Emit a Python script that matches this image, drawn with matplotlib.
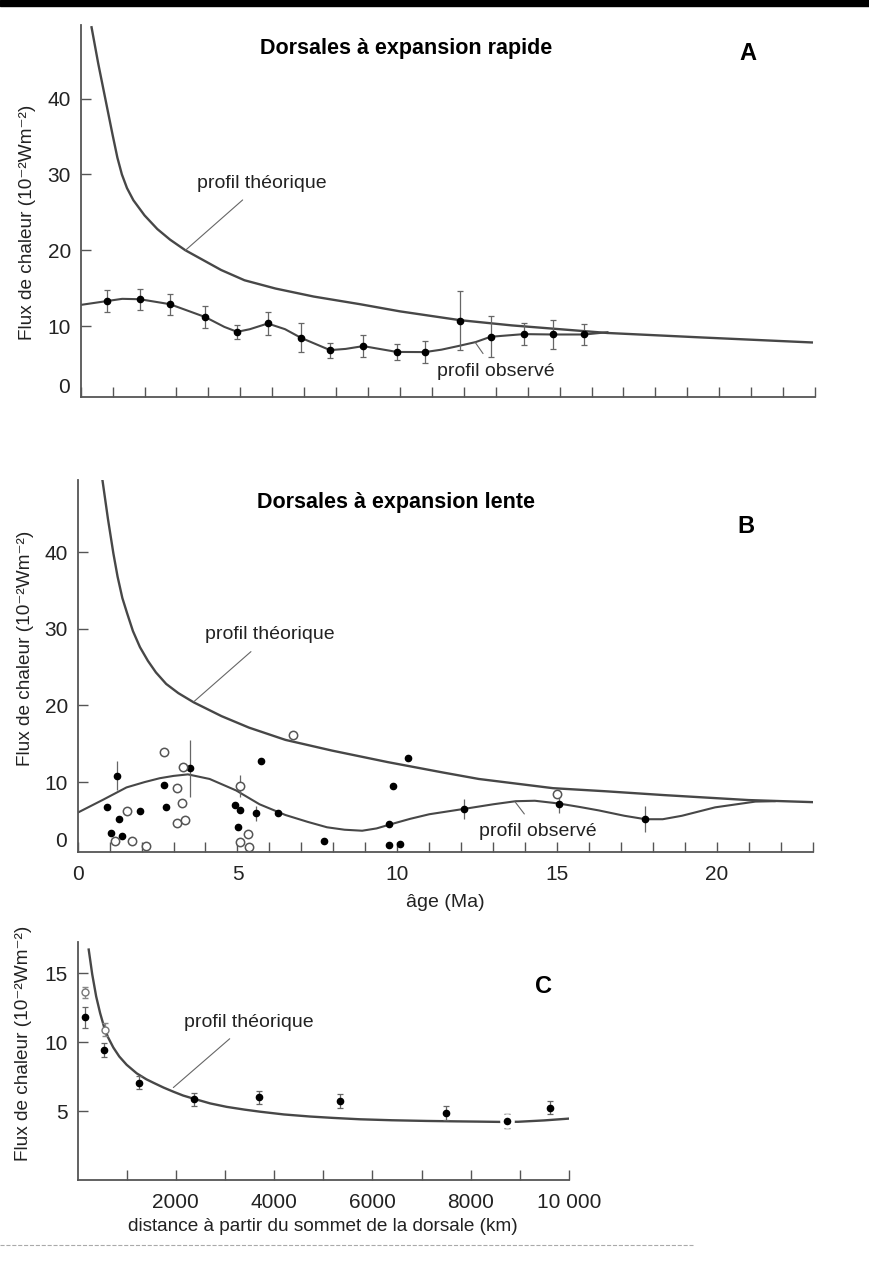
import matplotlib
matplotlib.use("Agg")
import matplotlib.pyplot as plt
from matplotlib.lines import Line2D
from matplotlib.patches import Rectangle

# ---------- A : dorsales à expansion rapide ----------
a_theo_age = [0.34, 0.55, 0.77, 1.0, 1.15, 1.29, 1.45, 1.65, 2.0, 2.4, 2.8, 3.28, 4.4, 5.13, 6.1,
              7.3, 8.74, 10.0, 11.86, 13.5, 16.5, 19.5, 22.9]
a_theo_flux = [49.4, 44.6, 40.0, 35.2, 32.2, 30.0, 28.2, 26.6, 24.6, 22.8, 21.4, 20.0, 17.4, 16.05, 14.96,
               13.9, 12.9, 11.95, 10.8, 10.1, 9.1, 8.5, 7.85]

a_obs_age = [0, 0.81, 1.3, 1.85, 2.79, 3.9, 4.5, 4.9, 5.3, 5.86, 6.4, 6.9, 7.81, 8.3, 8.85, 9.9,
             10.78, 11.3, 11.85, 12.37, 12.84, 13.88, 14.8, 15.78, 16.5]
a_obs_flux = [12.8, 13.3, 13.6, 13.55, 12.9, 11.2, 9.9, 9.25, 9.6, 10.35, 9.6, 8.46, 6.84, 7.0, 7.37, 6.6,
              6.58, 6.9, 7.4, 7.9, 8.6, 8.95, 8.9, 8.9, 9.2]

a_pt_age = [0.81, 1.85, 2.79, 3.9, 4.9, 5.86, 6.9, 7.81, 8.85, 9.9, 10.78, 11.87, 12.84, 13.88, 14.8, 15.78]
a_pt_flux = [13.3, 13.55, 12.9, 11.2, 9.25, 10.35, 8.46, 6.84, 7.37, 6.6, 6.58, 10.7, 8.6, 8.95, 8.9, 8.9]
a_pt_err = [1.4, 1.4, 1.4, 1.4, 0.9, 1.55, 1.9, 1.0, 1.5, 1.1, 1.4, 3.9, 2.7, 1.5, 1.9, 1.4]

# ---------- B : dorsales à expansion lente ----------
b_theo_age = [0.78, 0.95, 1.12, 1.25, 1.4, 1.55, 1.73, 1.95, 2.2, 2.45, 2.77, 3.15, 3.63, 4.5, 5.36,
              6.5, 7.96, 9.7, 11.42, 12.55, 14.87, 16.5, 18.33, 20.98, 23.2]
b_theo_flux = [49.3, 44.3, 39.8, 36.8, 34.0, 32.0, 29.7, 27.6, 25.8, 24.3, 22.8, 21.6, 20.4, 18.6, 17.1,
               15.5, 14.1, 12.6, 11.25, 10.4, 9.2, 8.8, 8.3, 7.65, 7.35]

b_obs_age = [0, 0.8, 1.53, 2.1, 2.57, 3.0, 3.45, 4.13, 4.96, 5.69, 6.5, 7.2, 7.8, 8.35, 8.9, 9.35, 9.8,
             10.4, 11.0, 12.09, 13.0, 13.7, 14.3, 15.05, 15.7, 16.3, 17.1, 17.76, 18.3, 18.9, 19.94,
             21.2, 21.8]
b_obs_flux = [6.0, 7.7, 9.3, 10.0, 10.5, 10.8, 11.0, 10.4, 8.9, 7.1, 5.7, 4.8, 4.1, 3.78, 3.65, 3.95, 4.5,
              5.2, 5.8, 6.5, 7.1, 7.5, 7.56, 7.2, 6.75, 6.3, 5.6, 5.15, 5.15, 5.6, 6.7,
              7.45, 7.5]

b_full_age = [0.91, 1.04, 1.24, 1.3, 1.39, 1.95, 2.71, 2.78, 3.51, 4.91, 5.02, 5.07, 5.57, 5.75,
              6.26, 7.72, 9.75, 9.75, 9.86, 10.08, 10.34, 12.09, 15.05, 17.76]
b_full_flux = [6.7, 3.35, 10.8, 5.17, 2.91, 6.26, 9.56, 6.7, 11.8, 7.04, 4.17, 6.39, 5.9, 12.8,
               5.9, 2.35, 4.52, 1.83, 9.43, 1.9, 13.1, 6.48, 7.13, 5.17]
b_full_err = [0, 0, 1.9, 0, 0, 0, 0, 0, 3.7, 0, 0, 0, 1.0, 0,
              0, 0, 0, 0, 0, 0, 0, 1.3, 1.2, 1.65]

b_open_age = [1.17, 1.55, 1.69, 2.13, 2.71, 3.11, 3.25, 3.29, 3.11, 3.35, 5.07, 5.33, 5.07, 5.36, 6.75, 15.0]
b_open_flux = [2.26, 6.26, 2.35, 1.7, 13.86, 9.2, 7.26, 11.9, 4.65, 5.04, 9.5, 3.22, 2.2, 1.56, 16.1, 8.4]
b_open_err = [0, 0, 0, 0, 0, 0, 0, 0, 0, 0, 1.4, 0, 0, 0, 0, 0]

# ---------- C : flux en fonction de la distance ----------
c_theo_dist = [228, 300, 380, 460, 540, 620, 729, 850, 1000, 1205, 1400, 1543, 1750, 1950, 2150, 2357,
               2700, 3036, 3400, 3714, 4200, 4731, 5200, 5749, 6400, 7106, 7700, 8191, 8600, 8965,
               9500, 10000]
c_theo_flux = [16.7, 14.9, 13.3, 12.1, 11.1, 10.35, 9.6, 8.95, 8.35, 7.73, 7.3, 7.05, 6.7, 6.4, 6.12, 5.9,
               5.55, 5.3, 5.1, 4.95, 4.75, 4.6, 4.5, 4.4, 4.33, 4.28, 4.25, 4.23, 4.21, 4.22,
               4.32, 4.45]

c_full_dist = [154, 530, 1261, 2361, 3686, 5334, 7499, 9604]
c_full_flux = [11.8, 9.4, 7.05, 5.85, 6.0, 5.7, 4.85, 5.24]
c_full_err = [0.75, 0.5, 0.48, 0.48, 0.48, 0.5, 0.48, 0.48]
c_big_dist = [8743]
c_big_flux = [4.27]
c_big_err = [0.45]
c_open_dist = [154, 564]
c_open_flux = [13.6, 10.9]
c_open_err = [0.4, 0.45]

FONT = ['Liberation Sans', 'DejaVu Sans']
LINE = '#474747'
TXT = '#222222'
YLAB = 'Flux de chaleur (10⁻²Wm⁻²)'
W, H = 869, 1262

fig = plt.figure(figsize=(W / 100, H / 100), dpi=100)
fig.patch.set_facecolor('white')


def box(l, r, t, b):
    return [l / W, 1 - b / H, (r - l) / W, (b - t) / H]


def style(ax):
    for s in ['top', 'right']:
        ax.spines[s].set_visible(False)
    for s in ['left', 'bottom']:
        ax.spines[s].set_color('#555555')
        ax.spines[s].set_linewidth(1.3)
    ax.tick_params(direction='in', length=7, width=1, color='#555555',
                   labelsize=15, pad=7, labelcolor=TXT)
    for lab in ax.get_xticklabels() + ax.get_yticklabels():
        lab.set_family(FONT)
    ax.set_facecolor('none')


def leader(ax, label, xy, xytext):
    ax.annotate(label, xy=xy, xytext=xytext, ha='center', va='center',
                fontsize=14, family=FONT, color=TXT,
                arrowprops=dict(arrowstyle='-', color='#666666', lw=0.8, shrinkA=6, shrinkB=0))


# ----- panel A
axA = fig.add_axes(box(80.7, 815, 25, 397))
axA.plot(a_theo_age, a_theo_flux, color=LINE, lw=1.7)
axA.plot(a_obs_age, a_obs_flux, color=LINE, lw=1.5)
axA.errorbar(a_pt_age, a_pt_flux, yerr=a_pt_err, fmt='o', ms=4.5, color='black',
             ecolor='#666666', elinewidth=0.9, capsize=2.5, capthick=0.9)
axA.set_xlim(0, 23)
axA.set_ylim(0.66, 49.7)
axA.set_xticks(range(0, 24))
axA.set_xticklabels([])
axA.set_yticks([10, 20, 30, 40])
style(axA)
axA.text(-0.015, 1.85, '0', transform=axA.get_yaxis_transform(), ha='right', va='center',
         fontsize=15, family=FONT, color=TXT)
axA.text(10.2, 46.6, 'Dorsales à expansion rapide', ha='center', va='center',
         fontsize=15.5, fontweight='bold', family=FONT)
axA.text(20.9, 46.0, 'A', ha='center', va='center', fontsize=17, fontweight='bold', family=FONT)
leader(axA, 'profil théorique', (3.28, 20.0), (5.67, 28.85))
leader(axA, 'profil observé', (12.35, 7.9), (13.0, 4.0))
axA.text(-0.072, 0.47, YLAB, transform=axA.transAxes, rotation=90, ha='center', va='center',
         fontsize=13.7, family=FONT, color=TXT)

# ----- panel B
axB = fig.add_axes(box(77.6, 813, 480, 851.5))
axB.plot(b_theo_age, b_theo_flux, color=LINE, lw=1.7)
axB.plot(b_obs_age, b_obs_flux, color=LINE, lw=1.5)
axB.errorbar(b_full_age, b_full_flux, yerr=b_full_err, fmt='o', ms=4.5, color='black',
             ecolor='#666666', elinewidth=0.9, capsize=0)
axB.errorbar(b_open_age, b_open_flux, yerr=b_open_err, fmt='o', ms=6, mfc='white', mec='#555555',
             mew=1.1, ecolor='#666666', elinewidth=0.9, capsize=0)
axB.set_xlim(0, 23)
axB.set_ylim(0.94, 49.4)
axB.set_xticks(range(0, 24))
axB.set_xticklabels([str(i) if i % 5 == 0 else '' for i in range(0, 24)])
axB.set_yticks([10, 20, 30, 40])
style(axB)
axB.tick_params(axis='x', pad=10)
axB.text(-0.015, 2.2, '0', transform=axB.get_yaxis_transform(), ha='right', va='center',
         fontsize=15, family=FONT, color=TXT)
axB.set_xlabel('âge (Ma)', fontsize=14, family=FONT, color=TXT, labelpad=7)
axB.text(9.96, 46.4, 'Dorsales à expansion lente', ha='center', va='center',
         fontsize=15.5, fontweight='bold', family=FONT)
axB.text(20.9, 43.3, 'B', ha='center', va='center', fontsize=17, fontweight='bold', family=FONT)
leader(axB, 'profil théorique', (3.64, 20.5), (6.02, 29.2))
leader(axB, 'profil observé', (13.68, 7.43), (14.4, 3.5))
axB.text(-0.0715, 0.548, YLAB, transform=axB.transAxes, rotation=90, ha='center', va='center',
         fontsize=13.7, family=FONT, color=TXT)

# ----- panel C
axC = fig.add_axes(box(77.5, 569, 941.7, 1180))
axC.plot(c_theo_dist, c_theo_flux, color=LINE, lw=1.7)
axC.errorbar(c_full_dist, c_full_flux, yerr=c_full_err, fmt='o', ms=4.5, color='black',
             ecolor='#666666', elinewidth=0.9, capsize=2.5, capthick=0.9)
axC.errorbar(c_big_dist, c_big_flux, yerr=c_big_err, fmt='o', ms=8, color='black', mec='white',
             mew=2.5, ecolor='#666666', elinewidth=0.9, capsize=2.5, capthick=0.9)
axC.errorbar(c_open_dist, c_open_flux, yerr=c_open_err, fmt='o', ms=5, mfc='white', mec='#777777',
             mew=1, ecolor='#888888', elinewidth=0.9, capsize=2.5, capthick=0.9)
axC.set_xlim(0, 10000)
axC.set_ylim(0, 17.27)
axC.set_xticks(range(1000, 10001, 1000))
axC.set_xticklabels(['', '2000', '', '4000', '', '6000', '', '8000', '', '10 000'])
axC.set_yticks([5, 10, 15])
style(axC)
axC.tick_params(axis='x', pad=9)
axC.set_xlabel('distance à partir du sommet de la dorsale (km)', fontsize=13.7, family=FONT,
               color=TXT, labelpad=5)
axC.text(9475, 14.0, 'C', ha='center', va='center', fontsize=17, fontweight='bold', family=FONT)
leader(axC, 'profil théorique', (1950, 6.7), (3490, 11.45))
axC.text(-0.11, 0.575, YLAB, transform=axC.transAxes, rotation=90, ha='center', va='center',
         fontsize=13.7, family=FONT, color=TXT)

# bord noir du scan en haut, pointillé en bas
fig.add_artist(Rectangle((0, 1 - 6 / H), 1, 6 / H, transform=fig.transFigure, color='black'))
fig.add_artist(Line2D([0, 693 / W], [1 - 1245 / H] * 2, transform=fig.transFigure,
                      ls='--', color='#aaaaaa', lw=0.8))

fig.savefig('out.png', dpi=100)
